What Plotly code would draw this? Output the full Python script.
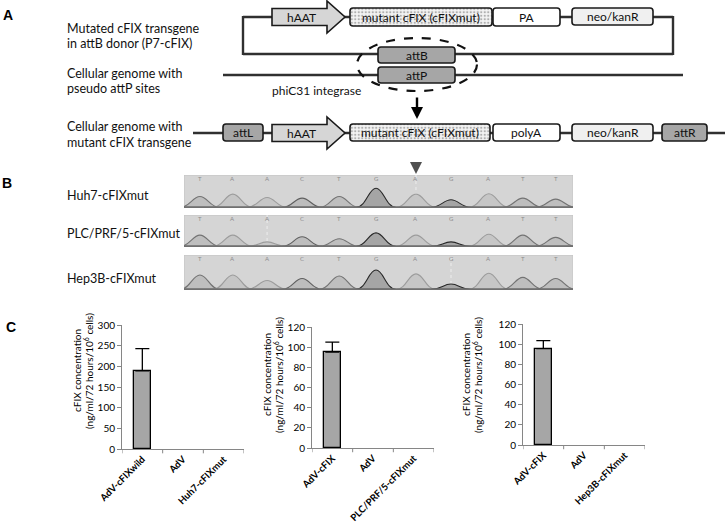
import plotly.graph_objects as go

W, H = 726, 524
FONT = "Lato"

# ---------------- Panel C data ----------------
c1_categories = ["AdV-cFIXwild", "AdV", "Huh7-cFIXmut"]
c1_values = [189, 0, 0]
c1_errors = [54, 0, 0]
c1_ticks = [0, 50, 100, 150, 200, 250, 300]

c2_categories = ["AdV-cFIX", "AdV", "PLC/PRF/5-cFIXmut"]
c2_values = [95, 0, 0]
c2_errors = [10, 0, 0]
c2_ticks = [0, 20, 40, 60, 80, 100, 120]

c3_categories = ["AdV-cFIX", "AdV", "Hep3B-cFIXmut"]
c3_values = [95.5, 0, 0]
c3_errors = [8, 0, 0]
c3_ticks = [0, 20, 40, 60, 80, 100, 120]

y_title_lines = ["cFIX concentration", "(ng/ml/72 hours/10<sup>6</sup> cells)"]

# ---------------- Panel B data ----------------
sample_labels = ["Huh7-cFIXmut", "PLC/PRF/5-cFIXmut", "Hep3B-cFIXmut"]
base_calls = ["T", "A", "A", "C", "T", "G", "A", "G", "A", "T", "T"]
peak_positions = [0.45, 1.38, 2.35, 3.34, 4.39, 5.43, 6.56, 7.55, 8.62, 9.58, 10.51]
huh7_peaks = [0.35, 0.42, 0.32, 0.30, 0.35, 0.60, 0.42, 0.25, 0.43, 0.30, 0.27]
plc_peaks = [0.37, 0.37, 0.16, 0.32, 0.26, 0.44, 0.37, 0.16, 0.40, 0.37, 0.30]
hep3b_peaks = [0.43, 0.43, 0.27, 0.33, 0.40, 0.57, 0.46, 0.17, 0.48, 0.36, 0.33]
cursor_positions = [6.56, 2.35, 7.55]
sample_peaks = [huh7_peaks, plc_peaks, hep3b_peaks]

# ---------------- Panel A labels ----------------
row_labels = [
    ["Mutated cFIX transgene", "in attB donor (P7-cFIX)"],
    ["Cellular genome with", "pseudo attP sites"],
    ["Cellular genome with", "mutant cFIX transgene"],
]
integrase_label = "phiC31 integrase"

# ---------------- helpers ----------------
def px(x):
    return x / W


def py(y):
    return 1 - y / H


shapes = []
annotations = []
fig = go.Figure()

# base "canvas" axis in pixel units
fig.add_trace(go.Scatter(x=[], y=[], xaxis="x", yaxis="y", showlegend=False, hoverinfo="skip"))

LINE = "#303030"


def hline(x0, x1, y, width=2.4):
    shapes.append(dict(type="line", xref="x", yref="y", x0=x0, x1=x1, y0=y, y1=y,
                       line=dict(color=LINE, width=width), layer="below"))


def vline(x, y0, y1, width=2.4):
    shapes.append(dict(type="line", xref="x", yref="y", x0=x, x1=x, y0=y0, y1=y1,
                       line=dict(color=LINE, width=width), layer="below"))


def rpath(x0, y0, x1, y1, r=3):
    return (f"M{x0+r},{y0} L{x1-r},{y0} Q{x1},{y0} {x1},{y0+r} L{x1},{y1-r} "
            f"Q{x1},{y1} {x1-r},{y1} L{x0+r},{y1} Q{x0},{y1} {x0},{y1-r} "
            f"L{x0},{y0+r} Q{x0},{y0} {x0+r},{y0} Z")


def text(x, y, s, size=12, xanchor="center", color="#111111", bold=False, family=FONT, angle=0):
    annotations.append(dict(x=x, y=y, xref="x", yref="y", text=s, showarrow=False,
                            xanchor=xanchor, yanchor="middle", textangle=angle,
                            font=dict(size=size, color=color, family=family,
                                      weight="bold" if bold else "normal")))


def rbox(x0, y0, x1, y1, fill, label, size=12):
    shapes.append(dict(type="path", xref="x", yref="y", path=rpath(x0, y0, x1, y1),
                       fillcolor=fill, line=dict(color="#1a1a1a", width=1.6)))
    if label:
        text((x0 + x1) / 2, (y0 + y1) / 2, label, size=size)


def stipple_box(x0, y0, x1, y1, label):
    fig.add_trace(go.Bar(x=[(x0 + x1) / 2], y=[y1 - y0], base=[y0], width=[x1 - x0],
                         xaxis="x", yaxis="y", showlegend=False, hoverinfo="skip",
                         marker=dict(color="#f4f4f4", line=dict(width=0),
                                     pattern=dict(shape=".", fgcolor="#6a6a6a", size=3.5, solidity=0.35))))
    rbox(x0, y0, x1, y1, "rgba(0,0,0,0)", label)


def arrow_box(x0, xb, xt, yc, hb, hh, label):
    path = (f"M{x0},{yc-hb} L{xb},{yc-hb} L{xb},{yc-hh} L{xt},{yc} L{xb},{yc+hh} "
            f"L{xb},{yc+hb} L{x0},{yc+hb} Z")
    shapes.append(dict(type="path", xref="x", yref="y", path=path, fillcolor="#d6d6d6",
                       line=dict(color="#1a1a1a", width=1.6)))
    text((x0 + xb) / 2 + 2, yc, label)


# ---------------- Panel A ----------------
text(8, 15, "A", size=14, bold=True, family="Liberation Sans", color="#000")
text(65, 28, row_labels[0][0], size=12.5, xanchor="left")
text(65, 43, row_labels[0][1], size=12.5, xanchor="left")
text(65, 73, row_labels[1][0], size=12.5, xanchor="left")
text(65, 88, row_labels[1][1], size=12.5, xanchor="left")
text(65, 126, row_labels[2][0], size=12.5, xanchor="left")
text(65, 142, row_labels[2][1], size=12.5, xanchor="left")

# plasmid loop
hline(243, 673, 17)
hline(243, 673, 54)
vline(243, 16, 55)
vline(673, 16, 55)
# genome with pseudo attP
hline(223, 683, 75)
# integrated genome
hline(193, 725, 133)

arrow_box(272, 327, 345, 17, 8.5, 16, "hAAT")
stipple_box(350, 8, 492, 26, "mutant cFIX (cFIXmut)")
rbox(493, 8, 560, 26, "#ffffff", "PA")
rbox(572, 8, 653, 25, "#f0f0f0", "neo/kanR")
rbox(378, 47, 455, 63, "#a6a6a6", "attB")
rbox(378, 67, 455, 83, "#a6a6a6", "attP")

shapes.append(dict(type="circle", xref="x", yref="y", x0=357, x1=477, y0=38, y1=91,
                   line=dict(color="#111111", width=2.2, dash="dash")))
text(316, 90, integrase_label, size=12)
annotations.append(dict(x=417, y=119, ax=417, ay=96, xref="x", yref="y", axref="x", ayref="y",
                        text="", showarrow=True, arrowhead=2, arrowsize=1, arrowwidth=2.4,
                        arrowcolor="#000000"))

rbox(223, 124, 263, 141, "#a6a6a6", "attL")
arrow_box(272, 327, 345, 133, 8.5, 16, "hAAT")
stipple_box(350, 124, 490, 141, "mutant cFIX (cFIXmut)")
rbox(493, 124, 560, 141, "#ffffff", "polyA")
rbox(572, 124, 653, 141, "#f0f0f0", "neo/kanR")
rbox(662, 124, 707, 141, "#a6a6a6", "attR")

# ---------------- Panel B ----------------
text(7, 183, "B", size=14, bold=True, family="Liberation Sans", color="#000")
shapes.append(dict(type="path", xref="x", yref="y", path="M410,162 L422,162 L416,174 Z",
                   fillcolor="#505050", line=dict(width=0)))

row_boxes = [(175, 208), (215, 247), (255, 290)]
label_y = [195, 233, 278]
peak_style = {
    "G": ("#1f1f1f", "#a3a3a3"),
    "A": ("#9a9a9a", "#c6c6c6"),
    "T": ("#6e6e6e", "#bdbdbd"),
    "C": ("#5a5a5a", "#bcbcbc"),
}
layout_axes = {}
for i, (top, bot) in enumerate(row_boxes):
    n = 5 + i
    xa, ya = f"x{n}", f"y{n}"
    layout_axes[f"xaxis{n}"] = dict(domain=[px(184), px(573)], range=[0, 11], anchor=ya,
                                    visible=False, fixedrange=True, automargin=False)
    layout_axes[f"yaxis{n}"] = dict(domain=[py(bot), py(top)], range=[0, 1], anchor=xa,
                                    visible=False, fixedrange=True, automargin=False)
    fig.add_trace(go.Scatter(x=[], y=[], xaxis=xa, yaxis=ya, showlegend=False, hoverinfo="skip"))
    text(65, label_y[i], sample_labels[i], size=12.5, xanchor="left")
    shapes.append(dict(type="rect", xref=xa, yref=ya, x0=0, x1=11, y0=0, y1=1,
                       fillcolor="#d5d5d5", line=dict(color="#c4c4c4", width=1), layer="below"))
    shapes.append(dict(type="line", xref=xa, yref=ya, x0=cursor_positions[i], x1=cursor_positions[i],
                       y0=0, y1=1, line=dict(color="#ededed", width=1, dash="dot")))
    for pos, h, b in zip(peak_positions, sample_peaks[i], base_calls):
        w = 0.56
        path = (f"M{pos-w},0.02 C{pos-0.5*w},0.02 {pos-0.38*w},{h} {pos},{h} "
                f"C{pos+0.38*w},{h} {pos+0.5*w},0.02 {pos+w},0.02 Z")
        lc, fc = peak_style[b]
        shapes.append(dict(type="path", xref=xa, yref=ya, path=path, fillcolor=fc,
                           opacity=0.95, line=dict(color=lc, width=1.1)))
        annotations.append(dict(x=pos, y=0.9, xref=xa, yref=ya, text=b, showarrow=False,
                                font=dict(size=6, color="#8c8c8c", family=FONT)))
    shapes.append(dict(type="line", xref=xa, yref=ya, x0=0, x1=11, y0=0.02, y1=0.02,
                       line=dict(color="#707070", width=2)))

# ---------------- Panel C ----------------
text(11, 327, "C", size=14, bold=True, family="Liberation Sans", color="#000")

charts = [
    (c1_categories, c1_values, c1_errors, c1_ticks, (122, 244), (325, 449), (77, 88, 371)),
    (c2_categories, c2_values, c2_errors, c2_ticks, (312, 434), (327, 448), (267, 278, 375)),
    (c3_categories, c3_values, c3_errors, c3_ticks, (523, 645), (324, 445), (466, 477, 375)),
]
AX = "#868686"
for k, (cats, vals, errs, ticks, (xl, xr), (yt, yb), (t1, t2, ty)) in enumerate(charts):
    n = 2 + k
    xa, ya = f"x{n}", f"y{n}"
    idx = list(range(len(cats)))
    fig.add_trace(go.Bar(
        x=idx, y=vals, xaxis=xa, yaxis=ya, width=0.42, showlegend=False,
        marker=dict(color="#a6a6a6",
                    line=dict(color="#000000", width=[1.3 if v > 0 else 0 for v in vals])),
        hoverinfo="skip"))
    # upward error bars for the bars that have one
    ei = [i for i, e in enumerate(errs) if e > 0]
    fig.add_trace(go.Scatter(
        x=ei, y=[vals[i] for i in ei], mode="markers", marker=dict(size=1, opacity=0),
        xaxis=xa, yaxis=ya, showlegend=False, hoverinfo="skip",
        error_y=dict(type="data", array=[errs[i] for i in ei], arrayminus=[0] * len(ei),
                     symmetric=False, color="#000000", thickness=1.3, width=7)))
    layout_axes[f"xaxis{n}"] = dict(
        domain=[px(xl), px(xr)], anchor=ya, range=[-0.5, len(cats) - 0.5],
        tickvals=idx, ticktext=[f"<b>{c}</b>" for c in cats],
        tickangle=-45, ticks="", showline=True, linecolor=AX, linewidth=1,
        showgrid=False, zeroline=False, fixedrange=True, automargin=False,
        tickfont=dict(size=9.6, color="#000", family=FONT))
    layout_axes[f"yaxis{n}"] = dict(
        domain=[py(yb), py(yt)], anchor=xa, range=[0, ticks[-1]], tickvals=ticks,
        ticks="outside", ticklen=4, tickcolor=AX, showline=True, linecolor=AX, linewidth=1,
        showgrid=False, zeroline=False, fixedrange=True, automargin=False,
        tickfont=dict(size=10, color="#000", family=FONT))
    # category boundary tick marks
    for b in range(len(cats) + 1):
        shapes.append(dict(type="line", xref=xa, yref=f"{ya} domain", x0=b - 0.5, x1=b - 0.5,
                           y0=0, y1=-0.035, line=dict(color=AX, width=1)))
    text(t1, ty, y_title_lines[0], size=10, color="#000", angle=-90)
    text(t2, ty, y_title_lines[1], size=10, color="#000", angle=-90)

fig.update_layout(
    width=W, height=H, margin=dict(l=0, r=0, t=0, b=0, pad=0, autoexpand=False),
    paper_bgcolor="white", plot_bgcolor="rgba(0,0,0,0)",
    font=dict(family=FONT, color="#111"),
    xaxis=dict(domain=[0, 1], range=[0, W], visible=False, fixedrange=True, automargin=False),
    yaxis=dict(domain=[0, 1], range=[H, 0], visible=False, fixedrange=True, automargin=False),
    shapes=shapes, annotations=annotations, showlegend=False,
    bargap=0,
    **layout_axes,
)

fig.write_html("out.html", config={"displayModeBar": False},
               post_script="document.body.style.margin='0px';")
